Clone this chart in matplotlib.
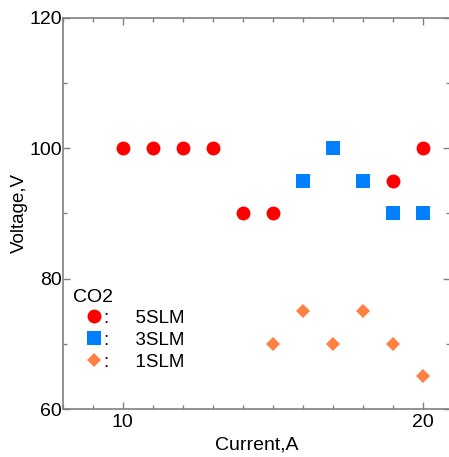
import matplotlib.pyplot as plt
from matplotlib.ticker import MultipleLocator

plt.rcParams['font.family'] = ['Liberation Sans', 'DejaVu Sans']

cur5 = [10, 11, 12, 13, 14, 15, 19, 20]
volt5 = [100, 100, 100, 100, 90, 90, 95, 100]
cur3 = [16, 17, 18, 19, 20]
volt3 = [95, 100, 95, 90, 90]
cur1 = [15, 16, 17, 18, 19, 20]
volt1 = [70, 75, 70, 75, 70, 65]

fig = plt.figure(figsize=(4.49, 4.57), dpi=100)
ax = fig.add_axes([0.140, 0.105, 0.862, 0.856])

ax.plot(cur5, volt5, 'o', color='#ff0000', markersize=10, markeredgewidth=0, label=':     5SLM')
ax.plot(cur3, volt3, 's', color='#0080ff', markersize=10, markeredgewidth=0, label=':     3SLM')
ax.plot(cur1, volt1, 'D', color='#ff8040', markersize=7.5, markeredgewidth=0, label=':     1SLM')

ax.set_xlim(8, 20.9)
ax.set_ylim(60, 120)
ax.xaxis.set_major_locator(MultipleLocator(10))
ax.xaxis.set_minor_locator(MultipleLocator(1))
ax.yaxis.set_major_locator(MultipleLocator(20))
ax.yaxis.set_minor_locator(MultipleLocator(10))
ax.tick_params(which='both', direction='in', top=True, right=True, colors='#808080',
               labelcolor='black', labelsize=14, width=1)
ax.tick_params(axis='y', pad=0.5)
ax.tick_params(axis='x', pad=3.5)
ax.tick_params(which='major', length=5)
ax.tick_params(which='minor', length=3)
for s in ax.spines.values():
    s.set_color('#808080')
    s.set_linewidth(1.2)

ax.set_xlabel('Current,A', fontsize=14, labelpad=4)
ax.set_ylabel('Voltage,V', fontsize=13.5, labelpad=1)

ax.text(0.026, 0.286, 'CO2', transform=ax.transAxes, fontsize=14, va='center', ha='left')
leg = ax.legend(loc='upper left', bbox_to_anchor=(0.057, 0.254), frameon=False,
                fontsize=13.5, handlelength=1.0, handletextpad=0.0, labelspacing=0.26,
                borderpad=0, borderaxespad=0)

fig.savefig('out.png', dpi=100)
